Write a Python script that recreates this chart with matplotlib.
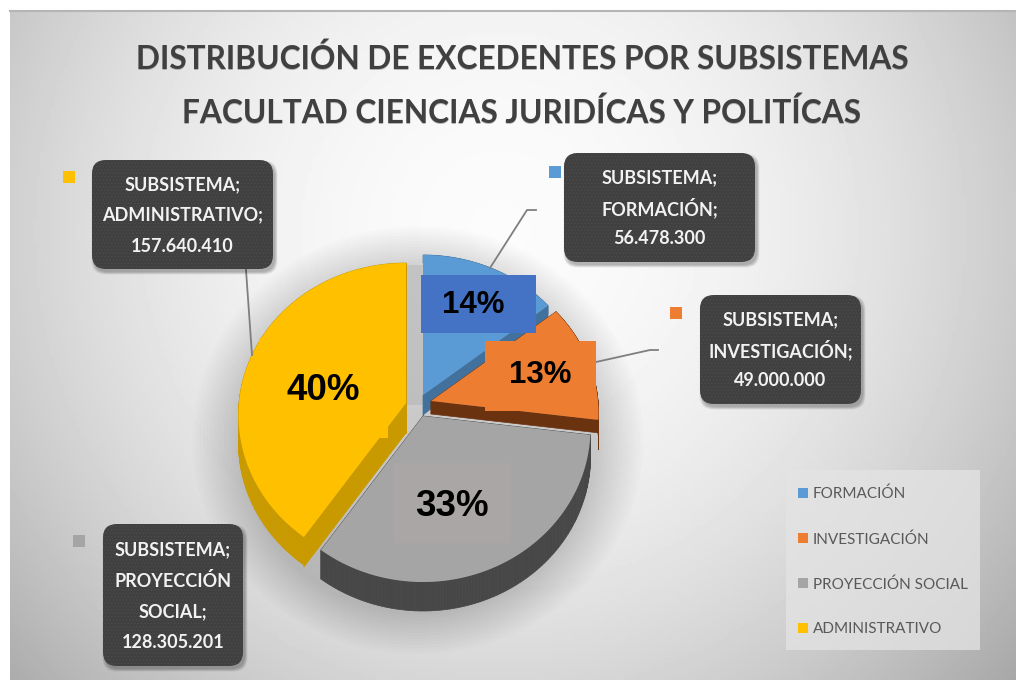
import numpy as np
import matplotlib
matplotlib.use('agg')
import matplotlib.pyplot as plt
from matplotlib.collections import PolyCollection
from matplotlib.patches import Ellipse, FancyBboxPatch, Patch, Rectangle

categorias = ['FORMACIÓN', 'INVESTIGACIÓN', 'PROYECCIÓN SOCIAL', 'ADMINISTRATIVO']
valores = [56478300, 49000000, 128305201, 157640410]
etiquetas_valor = ['56.478.300', '49.000.000', '128.305.201', '157.640.410']
etiquetas_pct = ['14%', '13%', '33%', '40%']
titulo = ['DISTRIBUCIÓN DE EXCEDENTES POR SUBSISTEMAS',
          'FACULTAD CIENCIAS JURIDÍCAS Y POLITÍCAS']

colores = ['#5b9bd5', '#ed7d31', '#a5a5a5', '#ffc000']
colores_lado = ['#41719c', '#6b3210', '#474747', '#c99a00']
caja_pct = ['#4472c4', '#ed7d31', '#aaa6a6', '#ffc000']

# apex of each slice (explosion), side depth at apex, depth change, depth of the arc
apices = [(423, 395), (431, 401), (423, 416), (406, 403)]
prof = [(20, 14, 8), (13, 0, 30), (29, 0, 29), (30, 0, 28)]
RX, RY, RP = 167, 153, 13

plt.rcParams['font.family'] = ['Lato', 'DejaVu Sans']


def proyectar(ap, r, t):
    # tilted disc, the front half looks a bit bigger than the back
    u = r * np.cos(t)
    v = r * np.sin(t)
    return ap[0] + RX * (1 - 0.08 * u) * v, ap[1] - (RY * u - RP * u * u)


def dibuja_porcion(ax, i, t1, t2):
    ap = apices[i]
    d0, dk, darc = prof[i]
    t = np.linspace(t1, t2, 120)
    ax_x, ax_y = proyectar(ap, 1.0, t)
    quads = []
    # arc
    for k in range(len(t) - 1):
        quads.append([(ax_x[k], ax_y[k]), (ax_x[k + 1], ax_y[k + 1]),
                      (ax_x[k + 1], ax_y[k + 1] + darc), (ax_x[k], ax_y[k] + darc)])
    # the two flat cuts
    for tc, ex, ey in ((t1, ax_x[0], ax_y[0]), (t2, ax_x[-1], ax_y[-1])):
        d_fin = d0 - dk * np.cos(tc)
        quads.append([ap, (ex, ey), (ex, ey + d_fin), (ap[0], ap[1] + d0)])
    ax.add_collection(PolyCollection(quads, facecolors=colores_lado[i],
                                     edgecolors=colores_lado[i], linewidths=0.5))
    xs = np.r_[ap[0], ax_x]
    ys = np.r_[ap[1], ax_y]
    ax.fill(xs, ys, color=colores[i], lw=0)


def caja(ax, x0, y0, x1, y1, lineas, cy):
    for k in range(6):
        ax.add_patch(FancyBboxPatch((x0 + 2 - k * 0.5, y0 + 3 - k * 0.5), x1 - x0 + k, y1 - y0 + k,
                                    boxstyle='round,pad=0,rounding_size=14', fc='k', ec='none',
                                    alpha=0.05, zorder=5))
    ax.add_patch(FancyBboxPatch((x0, y0), x1 - x0, y1 - y0,
                                boxstyle='round,pad=0,rounding_size=14', fc='#404040',
                                ec='#4c4c4c', lw=0, hatch='.....', zorder=6))
    for txt, y in zip(lineas, cy):
        ax.text((x0 + x1) / 2, y, txt, color='#f2f2f2', fontsize=13, fontweight='bold',
                ha='center', va='center', zorder=7)


fig = plt.figure(figsize=(10.16, 6.8), dpi=100)
ax = fig.add_axes([0, 0, 1, 1])
plt.rcParams['hatch.linewidth'] = 0.6

# background
gx, gy = np.meshgrid(np.linspace(10, 1016, 300), np.linspace(10, 680, 200))
dist = np.sqrt(((gx - 500) / 620.0) ** 2 + ((gy - 230) / 620.0) ** 2)
fondo = 0.985 - 0.27 * np.clip(dist, 0, 1.15) ** 2.0
ax.imshow(fondo, extent=(10, 1016, 680, 10), cmap='gray', vmin=0, vmax=1, aspect='auto', zorder=0)
ax.plot([10, 1016], [10.5, 10.5], color='#b5b5b5', lw=1.5, zorder=1)

# soft shadow under the pie
for k in range(14):
    ax.add_patch(Ellipse((418, 440), 360 + k * 7, 350 + k * 6, fc='k', ec='none', alpha=0.012, zorder=1))
ax.add_patch(Rectangle((406, 265), 18, 140, fc='#888888', ec='none', alpha=0.18, zorder=1))

# slices
total = float(sum(valores))
limites = np.r_[0, np.cumsum(valores)] / total * 2 * np.pi
for i in [0, 1, 3, 2]:
    dibuja_porcion(ax, i, limites[i], limites[i + 1])

# percent labels on their boxes
ax.add_patch(Rectangle((421, 275), 115, 58, fc=caja_pct[0], ec='none', zorder=3))
ax.add_patch(Rectangle((485, 341), 111, 70, fc=caja_pct[1], ec='none', zorder=3))
ax.add_patch(Rectangle((393, 463), 118, 80, fc=caja_pct[2], ec='none', zorder=3))
ax.add_patch(Rectangle((259, 338), 129, 100, fc=caja_pct[3], ec='none', zorder=3))
ax.text(473, 305, etiquetas_pct[0], fontsize=22.5, fontweight='bold', family='Liberation Sans',
        color='k', ha='center', va='center', zorder=4)
ax.text(540, 375, etiquetas_pct[1], fontsize=22.5, fontweight='bold', family='Liberation Sans',
        color='k', ha='center', va='center', zorder=4)
ax.text(452, 506, etiquetas_pct[2], fontsize=26.5, fontweight='bold', family='Liberation Sans',
        color='k', ha='center', va='center', zorder=4)
ax.text(323, 390, etiquetas_pct[3], fontsize=26.5, fontweight='bold', family='Liberation Sans',
        color='k', ha='center', va='center', zorder=4)

# leader lines
ax.plot([490, 527, 536], [268, 210, 210], color='#7f7f7f', lw=1.3, zorder=2)
ax.plot([596, 650, 658], [362, 350, 350], color='#7f7f7f', lw=1.3, zorder=2)
ax.plot([252, 246], [355, 270], color='#7f7f7f', lw=1.3, zorder=2)

# data callouts
caja(ax, 92, 160, 273, 269, ['SUBSISTEMA;', categorias[3] + ';', etiquetas_valor[3]], [185, 215, 246])
caja(ax, 564, 153, 755, 262, ['SUBSISTEMA;', categorias[0] + ';', etiquetas_valor[0]], [178, 208, 239])
caja(ax, 700, 295, 861, 404, ['SUBSISTEMA;', categorias[1] + ';', etiquetas_valor[1]], [320, 350, 381])
caja(ax, 103, 524, 243, 666, ['SUBSISTEMA;', 'PROYECCIÓN', 'SOCIAL;', etiquetas_valor[2]],
     [550, 581, 612, 643])

for (x, y), i in zip([(549, 166), (670, 307), (73, 535), (63, 171)], range(4)):
    ax.add_patch(Rectangle((x, y), 12, 12, fc=colores[i], ec='none', zorder=3))

# title
for linea, y in zip(titulo, [59, 113]):
    ax.text(522, y + 1, linea, fontsize=22.8, fontweight='bold', color='#8a8a8a',
            ha='center', va='center', alpha=0.6, zorder=2)
    ax.text(522, y, linea, fontsize=22.8, fontweight='bold', color='#404040',
            ha='center', va='center', zorder=3)

# legend panel
ax.add_patch(Rectangle((786, 470), 194, 180, fc='#e4e4e4', ec='none', alpha=0.75, zorder=2))

ax.set_xlim(0, 1016)
ax.set_ylim(680, 0)
ax.axis('off')

handles = [Patch(facecolor=c, edgecolor='none', label=n) for c, n in zip(colores, categorias)]
leg = ax.legend(handles=handles, loc='upper left', bbox_to_anchor=(785 / 1016, 1 - 474 / 680),
                bbox_transform=fig.transFigure, frameon=False, labelspacing=2.0, fontsize=11,
                handlelength=0.65, handleheight=0.65, handletextpad=0.33, borderaxespad=0,
                borderpad=0.85, labelcolor='#595959')

fig.savefig('out.png', dpi=100, facecolor='white')
